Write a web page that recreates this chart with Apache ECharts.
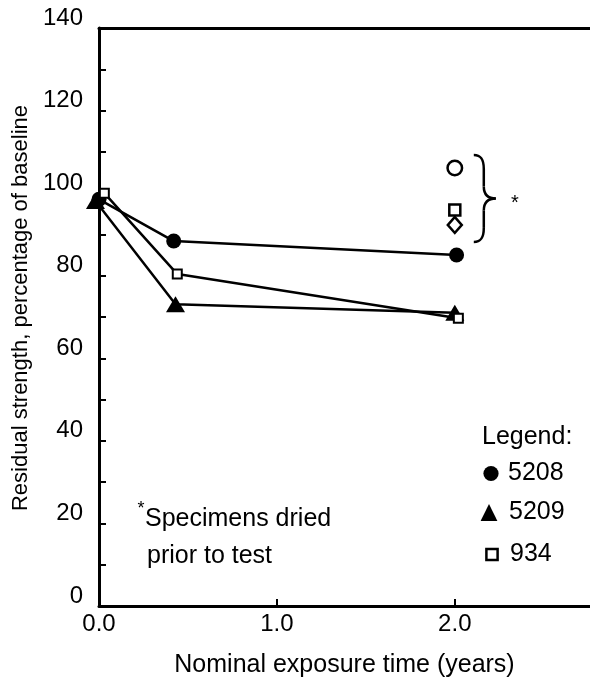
<!DOCTYPE html>
<html>
<head>
<meta charset="utf-8">
<style>html,body{margin:0;padding:0;background:#fff;}#c{width:590px;height:686px;}</style>
<script src="https://cdn.jsdelivr.net/npm/echarts@6/dist/echarts.min.js"></script>
</head>
<body>
<div id="c"></div>
<script>
// ---- data ----
const seriesNames = ['5208', '5209', '934'];
const x5208 = [0.0, 0.42, 2.01];
const y5208 = [98.5, 88.4, 85.0];
const x5209 = [-0.02, 0.43, 2.0];
const y5209 = [98.1, 73.1, 71.0];
const x934 = [0.03, 0.44, 2.02];
const y934 = [100.0, 80.4, 69.7];
// dried specimens (open symbols): 5208, 934, 5209
const driedX = [2.0, 2.0, 2.0];
const driedY = [106.1, 95.9, 92.3];
const driedSymbols = ['circle', 'rect', 'diamond'];
const driedSizes = [14.5, 11, [14, 16]];
const yTicks = [0, 20, 40, 60, 80, 100, 120, 140];
const yMinorTicks = [0, 10, 20, 30, 40, 50, 60, 70, 80, 90, 100, 110, 120, 130, 140];
const xTicks = [0, 1, 2];

const FONT = "'Liberation Sans', Arial, sans-serif";
const pair = (xs, ys) => xs.map((x, i) => [x, ys[i]]);

const chart = echarts.init(document.getElementById('c'), null, {renderer: 'canvas'});

const option = {
  animation: false,
  backgroundColor: '#fff',
  textStyle: {fontFamily: FONT, color: '#000'},
  grid: {left: 99, right: 0, top: 28, bottom: 80, containLabel: false},
  xAxis: [{
    type: 'value', min: 0, max: 2.76,
    name: 'Nominal exposure time (years)', nameLocation: 'middle', nameGap: 47,
    nameTextStyle: {fontSize: 25, color: '#000', fontFamily: FONT},
    axisLine: {show: true, onZero: false, lineStyle: {color: '#000', width: 3}},
    axisTick: {show: true, inside: true, length: 7, customValues: xTicks, lineStyle: {color: '#000', width: 2}},
    axisLabel: {
      fontSize: 24, color: '#000', fontFamily: FONT, margin: 6, customValues: xTicks,
      formatter: v => Number(v).toFixed(1)
    },
    splitLine: {show: false}
  }, {
    type: 'value', min: 0, max: 2.76, position: 'top',
    axisLine: {show: true, onZero: false, lineStyle: {color: '#000', width: 3}},
    axisTick: {show: false}, axisLabel: {show: false}, splitLine: {show: false}
  }],
  yAxis: {
    type: 'value', min: 0, max: 140,
    name: 'Residual strength, percentage of baseline', nameLocation: 'middle', nameGap: 66,
    nameTextStyle: {fontSize: 22, color: '#000', fontFamily: FONT, padding: [0, 0, 0, 18]},
    axisLine: {show: true, onZero: false, lineStyle: {color: '#000', width: 3}},
    axisTick: {show: true, inside: true, length: 7, customValues: yMinorTicks, lineStyle: {color: '#000', width: 2}},
    axisLabel: {
      fontSize: 24, color: '#000', fontFamily: FONT, margin: 16, customValues: yTicks,
      verticalAlign: 'bottom', lineHeight: 20,
      formatter: v => String(v)
    },
    splitLine: {show: false}
  },
  legend: [
    {data: ['5208'], orient: 'vertical', left: 479, top: 461, padding: 0, itemWidth: 24, itemHeight: 19,
     textStyle: {fontSize: 25, color: '#000', fontFamily: FONT},
     itemStyle: {color: '#000', borderWidth: 0}, lineStyle: {width: 0, opacity: 0}, selectedMode: false},
    {data: ['5209'], orient: 'vertical', left: 474, top: 500, padding: 0, itemWidth: 30, itemHeight: 21,
     textStyle: {fontSize: 25, color: '#000', fontFamily: FONT},
     itemStyle: {color: '#000', borderWidth: 0}, lineStyle: {width: 0, opacity: 0}, selectedMode: false},
    {data: ['934'], orient: 'vertical', left: 479, top: 542, padding: 0, itemWidth: 26, itemHeight: 14,
     textStyle: {fontSize: 25, color: '#000', fontFamily: FONT},
     itemStyle: {color: '#fff', borderColor: '#000', borderWidth: 2.5}, lineStyle: {width: 0, opacity: 0}, selectedMode: false}
  ],
  series: [
    {name: seriesNames[0], type: 'line', data: pair(x5208, y5208), clip: false,
     symbol: 'circle', symbolSize: 15, showAllSymbol: true,
     itemStyle: {color: '#000', opacity: 1}, lineStyle: {color: '#000', width: 2.5}, emphasis: {disabled: true}},
    {name: seriesNames[1], type: 'line', data: pair(x5209, y5209), clip: false,
     symbol: 'triangle', symbolSize: [19, 16], showAllSymbol: true,
     itemStyle: {color: '#000', opacity: 1}, lineStyle: {color: '#000', width: 2.5}, emphasis: {disabled: true}},
    {name: seriesNames[2], type: 'line', data: pair(x934, y934), clip: false,
     symbol: 'rect', symbolSize: 9, showAllSymbol: true,
     itemStyle: {color: '#fff', borderColor: '#000', borderWidth: 2, opacity: 1}, lineStyle: {color: '#000', width: 2.5},
     emphasis: {disabled: true}},
    {name: 'Dried', type: 'scatter', clip: false,
     data: driedX.map((x, i) => ({value: [x, driedY[i]], symbol: driedSymbols[i], symbolSize: driedSizes[i]})),
     itemStyle: {color: '#fff', borderColor: '#000', borderWidth: 2.5, opacity: 1}, emphasis: {disabled: true}}
  ]
};
chart.setOption(option);

// annotations placed relative to the dried-specimen points
const pTop = chart.convertToPixel({seriesIndex: 3}, [driedX[0], Math.max(...driedY)]);
const pBot = chart.convertToPixel({seriesIndex: 3}, [driedX[0], Math.min(...driedY)]);
const x0 = pTop[0] + 19, t = pTop[1] - 13, b = pBot[1] + 17, m = (t + b) / 2;
const braceStyle = {stroke: '#000', lineWidth: 2.5, fill: null};
const bez = (x1, y1, cpx1, cpy1, cpx2, cpy2, x2, y2) =>
  ({type: 'bezierCurve', shape: {x1, y1, cpx1, cpy1, cpx2, cpy2, x2, y2}, style: braceStyle, z: 10});
const seg = (x1, y1, x2, y2) => ({type: 'line', shape: {x1, y1, x2, y2}, style: braceStyle, z: 10});

chart.setOption({
  graphic: [
    bez(x0, t, x0 + 7, t, x0 + 10, t + 4, x0 + 10, t + 14),
    seg(x0 + 10, t + 14, x0 + 10, m - 12),
    bez(x0 + 10, m - 12, x0 + 10, m - 4, x0 + 14, m, x0 + 22, m),
    bez(x0 + 22, m, x0 + 14, m, x0 + 10, m + 4, x0 + 10, m + 12),
    seg(x0 + 10, m + 12, x0 + 10, b - 14),
    bez(x0 + 10, b - 14, x0 + 10, b - 4, x0 + 7, b, x0, b),
    {type: 'text', x: x0 + 41, y: m + 5, style: {text: '*', fontSize: 20, fontFamily: FONT, fill: '#000', align: 'center', verticalAlign: 'middle'}},
    {type: 'text', x: 482, y: 437, style: {text: 'Legend:', fontSize: 25, fontFamily: FONT, fill: '#000', align: 'left', verticalAlign: 'middle'}},
    {type: 'text', x: 141, y: 509, style: {text: '*', fontSize: 18, fontFamily: FONT, fill: '#000', align: 'center', verticalAlign: 'middle'}},
    {type: 'text', x: 145, y: 519, style: {text: 'Specimens dried', fontSize: 25, fontFamily: FONT, fill: '#000', align: 'left', verticalAlign: 'middle'}},
    {type: 'text', x: 147, y: 556, style: {text: 'prior to test', fontSize: 25, fontFamily: FONT, fill: '#000', align: 'left', verticalAlign: 'middle'}}
  ]
});
</script>
</body>
</html>
